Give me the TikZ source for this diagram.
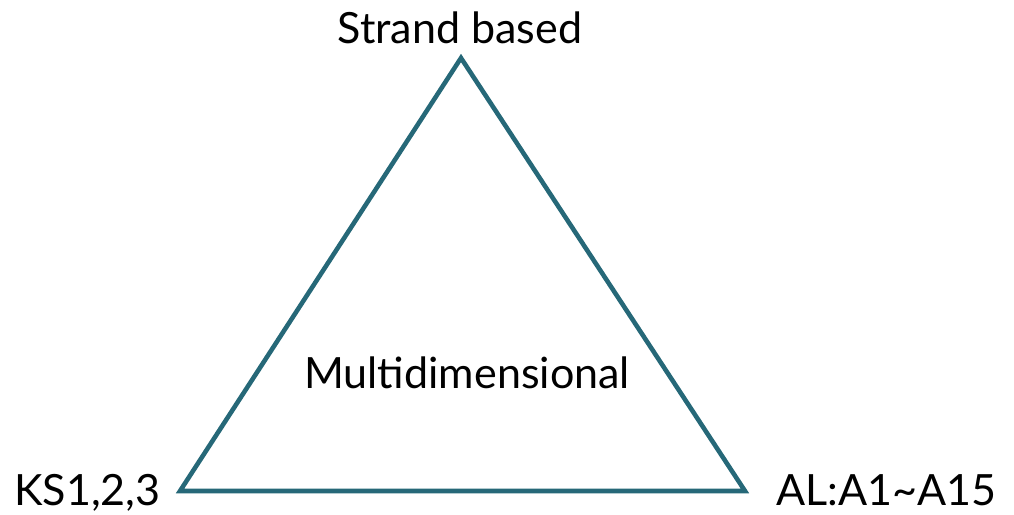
\documentclass[tikz,border=0pt]{standalone}
\usepackage{fontspec}
\setmainfont{Lato}
\usepackage{tikz}
\usetikzlibrary{positioning,calc}
\usepackage{xcolor}
\definecolor{tealline}{RGB}{38,104,120}

\begin{document}
\begin{tikzpicture}[
    x=0.02cm, y=0.02cm,
    edge/.style={draw=tealline, line width=2.6pt, line join=miter},
    label/.style={font=\fontsize{24.5}{29}\selectfont, inner sep=0pt}
]
    \useasboundingbox (0,0) rectangle (1014,514);

    % Corners
    \coordinate (top) at (461,456);
    \coordinate (left) at (180,23);
    \coordinate (right) at (745,23);

    % Triangle
    \draw[edge] (top) -- (left) -- (right) -- cycle;

    % Labels
    \node[label, anchor=base] (strand) at (460,470) {Strand based};
    \node[label, anchor=base east] (ks) at (161,9) {KS1,2,3};
    \node[label, anchor=base west] (al) at (776,9) {AL:A1\textasciitilde A15};
    \node[label, anchor=base] (multi) at (467,125) {Multidimensional};
\end{tikzpicture}
\end{document}
